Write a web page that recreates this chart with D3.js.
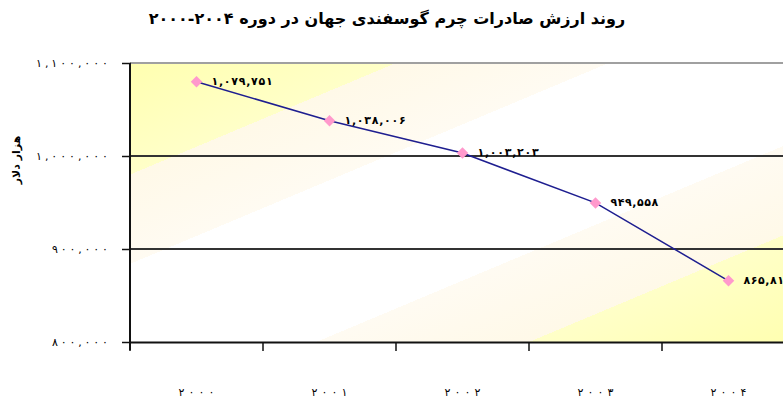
<!DOCTYPE html>
<html>
<head>
<meta charset="utf-8">
<script src="https://cdn.jsdelivr.net/npm/d3@7"></script>
<style>
  body { margin: 0; background: #fff; }
  text { font-family: "DejaVu Sans", sans-serif; }
</style>
</head>
<body>
<div id="chart"></div>
<script>
var chartTitle = "روند ارزش صادرات چرم گوسفندی جهان در دوره ۲۰۰۴-۲۰۰۰";
var yTitle = "هزار دلار";
var years = ["۲۰۰۰", "۲۰۰۱", "۲۰۰۲", "۲۰۰۳", "۲۰۰۴"];
var values = [1079751, 1038006, 1003203, 949558, 865819];
var valueLabels = ["۱,۰۷۹,۷۵۱", "۱,۰۳۸,۰۰۶", "۱,۰۰۳,۲۰۳", "۹۴۹,۵۵۸", "۸۶۵,۸۱۹"];
var yTicks = [800000, 900000, 1000000, 1100000];
var yTickLabels = ["۸۰۰,۰۰۰", "۹۰۰,۰۰۰", "۱,۰۰۰,۰۰۰", "۱,۱۰۰,۰۰۰"];

var mrg = { top: 63, left: 130 },
    plotW = 665,
    plotH = 279;

var svg = d3.select("#chart")
  .append("svg")
  .attr("width", 783)
  .attr("height", 407);

var defs = svg.append("defs");
var grad = defs.append("linearGradient")
  .attr("id", "bg")
  .attr("x1", 0).attr("y1", 0).attr("x2", 1).attr("y2", 1);
[[0, "#FFFFB0"], [0.2, "#FFFFC8"], [0.2, "#FFF9E8"], [0.36, "#FFFBF2"],
 [0.36, "#FFFFFF"], [0.64, "#FFFFFF"], [0.64, "#FFFBF2"], [0.8, "#FFF9E8"],
 [0.8, "#FFFFC8"], [1, "#FFFFB0"]].forEach(function (s) {
  grad.append("stop").attr("offset", s[0]).attr("stop-color", s[1]);
});

var chart = svg.append("g")
  .attr("transform", `translate(${mrg.left}, ${mrg.top})`);

var xScale = d3.scaleBand().domain(years).range([0, plotW]);
var yScale = d3.scaleLinear().domain([800000, 1100000]).range([plotH, 0]);

chart.append("rect")
  .attr("width", plotW)
  .attr("height", plotH)
  .attr("fill", "url(#bg)");

// top border
chart.append("line")
  .attr("x1", 0).attr("x2", plotW)
  .attr("y1", 0).attr("y2", 0)
  .attr("stroke", "#a0a0a0")
  .attr("stroke-width", 2);

// gridlines
chart.append("g")
  .selectAll("line")
  .data([900000, 1000000])
  .enter()
  .append("line")
  .attr("x1", 0).attr("x2", plotW)
  .attr("y1", function (d) { return yScale(d); })
  .attr("y2", function (d) { return yScale(d); })
  .attr("stroke", "#333")
  .attr("stroke-width", 2);

var x_axis = d3.axisBottom(xScale).tickSize(9).tickSizeOuter(0).tickFormat("");
var xg = chart.append("g")
  .attr("transform", `translate(0, ${plotH})`)
  .call(x_axis);
// ticks on the band edges
xg.selectAll(".tick").attr("transform", function (d) {
  return `translate(${xScale(d)},0)`;
});
xg.selectAll("path, line").attr("stroke", "#111").attr("stroke-width", 1.5);
xg.select(".domain").attr("stroke-width", 2);

var y_axis = d3.axisLeft(yScale).tickValues(yTicks).tickSize(8).tickSizeOuter(0)
  .tickFormat(function (d, i) { return yTickLabels[i]; });
var yg = chart.append("g").call(y_axis);
yg.select(".domain").attr("stroke", "#111").attr("stroke-width", 2)
  .attr("d", `M0,0V${plotH + 8}`);
yg.selectAll(".tick line").attr("stroke", "#111").attr("stroke-width", 1.5).attr("x1", 1);
yg.selectAll(".tick text")
  .attr("x", -22)
  .attr("dy", "0.35em")
  .attr("textLength", function (d, i) { return yTickLabels[i].length * 8; })
  .attr("lengthAdjust", "spacing")
  .style("font-size", "11px")
  .attr("fill", "#000");

// x labels
chart.append("g")
  .selectAll("text")
  .data(years)
  .enter()
  .append("text")
  .attr("x", function (d) { return xScale(d) + xScale.bandwidth() / 2; })
  .attr("y", plotH + 54)
  .attr("text-anchor", "middle")
  .attr("textLength", 36)
  .attr("lengthAdjust", "spacing")
  .style("font-size", "11px")
  .text(function (d) { return d; });

var line = d3.line()
  .x(function (d, i) { return xScale(years[i]) + xScale.bandwidth() / 2; })
  .y(function (d) { return yScale(d); });

chart.append("path")
  .datum(values)
  .attr("fill", "none")
  .attr("stroke", "#1E1E90")
  .attr("stroke-width", 1.5)
  .attr("d", line);

chart.append("g")
  .selectAll("path")
  .data(values)
  .enter()
  .append("path")
  .attr("d", d3.symbol().type(d3.symbolDiamond2).size(85))
  .attr("transform", function (d, i) {
    return `translate(${xScale(years[i]) + xScale.bandwidth() / 2}, ${yScale(d)})`;
  })
  .attr("fill", "#FF99CC");

chart.append("g")
  .selectAll("text")
  .data(values)
  .enter()
  .append("text")
  .attr("x", function (d, i) { return xScale(years[i]) + xScale.bandwidth() / 2 + 15; })
  .attr("y", function (d) { return yScale(d) - 1; })
  .attr("dy", "0.35em")
  .attr("textLength", function (d, i) { return valueLabels[i].length * 6.8; })
  .attr("lengthAdjust", "spacing")
  .style("font-size", "11px")
  .style("font-weight", "bold")
  .attr("direction", "ltr")
  .text(function (d, i) { return valueLabels[i]; });

svg.append("text")
  .attr("x", 387)
  .attr("y", 24)
  .attr("text-anchor", "middle")
  .attr("direction", "rtl")
  .style("font-size", "16px")
  .style("font-weight", "bold")
  .text(chartTitle);

svg.append("text")
  .attr("transform", "translate(20, 160) rotate(-90)")
  .attr("text-anchor", "middle")
  .attr("direction", "rtl")
  .style("font-size", "11px")
  .style("font-weight", "bold")
  .text(yTitle);
</script>
</body>
</html>
